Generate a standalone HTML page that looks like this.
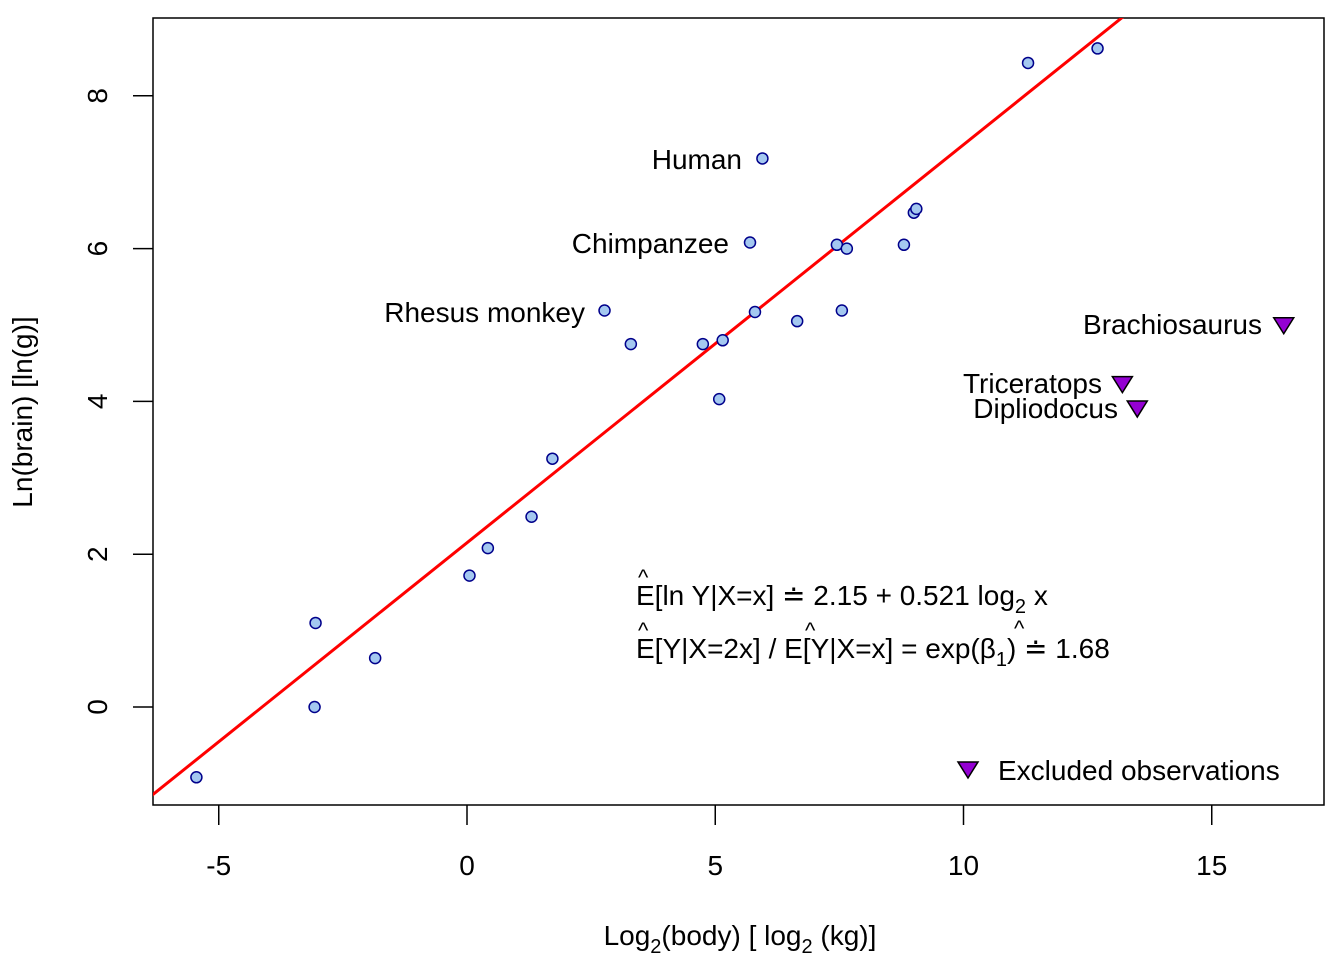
<!DOCTYPE html>
<html><head><meta charset="utf-8"><style>
body{margin:0;background:#fff;}
svg text{font-family:"Liberation Sans",sans-serif;fill:#000;}
</style></head><body>
<svg id="chart" width="1344" height="960" xmlns="http://www.w3.org/2000/svg">
<defs><clipPath id="clip"><rect x="153" y="18" width="1171" height="787"/></clipPath></defs>
<rect x="153" y="18" width="1171" height="787" fill="none" stroke="#000" stroke-width="1.5"/>
<g id="axes"></g>
<g id="line" clip-path="url(#clip)"></g>
<g id="pts"></g>
<text x="742" y="169" font-size="28" text-anchor="end">Human</text>
<text x="729" y="253" font-size="28" text-anchor="end">Chimpanzee</text>
<text x="585" y="322" font-size="28" text-anchor="end">Rhesus monkey</text>
<text x="1262" y="334" font-size="28" text-anchor="end">Brachiosaurus</text>
<text x="1102" y="393" font-size="28" text-anchor="end">Triceratops</text>
<text x="1118" y="418" font-size="28" text-anchor="end">Dipliodocus</text>
<g>
<text x="636" y="605" font-size="28">E[ln Y|X=x] ≐ 2.15 + 0.521 log<tspan font-size="20" dy="8">2</tspan><tspan dy="-8"> x</tspan></text>
<text x="638" y="585" font-size="22">^</text>
<text x="636" y="658" font-size="28">E[Y|X=2x] / E[Y|X=x] = exp(β<tspan font-size="20" dy="8">1</tspan><tspan dy="-8">) ≐ 1.68</tspan></text>
<text x="638" y="638" font-size="22">^</text>
<text x="805" y="638" font-size="22">^</text>
<text x="1014" y="636" font-size="22">^</text>
</g>
<g>
<polygon points="958,762 978,762 968,778" fill="#9400D3" stroke="#000" stroke-width="1.5"/>
<text x="998" y="780" font-size="28">Excluded observations</text>
</g>
<text x="740" y="945" font-size="28" text-anchor="middle">Log<tspan font-size="20" dy="8">2</tspan><tspan dy="-8">(body) [ log</tspan><tspan font-size="20" dy="8">2</tspan><tspan dy="-8"> (kg)]</tspan></text>
<text transform="translate(32,412) rotate(-90)" font-size="28" text-anchor="middle">Ln(brain) [ln(g)]</text>
</svg>
<script>
const xs=[-5.45,-3.05,-3.07,-1.85,0.05,0.42,1.3,1.72,2.77,3.3,4.75,5.15,5.08,5.7,5.8,5.95,6.65,7.45,7.65,7.55,8.8,9.0,9.05,11.3,12.7];
const ys=[-0.92,1.1,0.0,0.64,1.72,2.08,2.49,3.25,5.19,4.75,4.75,4.8,4.03,6.08,5.17,7.18,5.05,6.05,6.0,5.19,6.05,6.47,6.52,8.43,8.62];
const exX=[16.45,13.2,13.5];
const exY=[4.99,4.22,3.9];
const xTicks=[-5,0,5,10,15];
const yTicks=[0,2,4,6,8];
const intercept=2.15, slope=0.521;
const NS="http://www.w3.org/2000/svg";
const sx=v=>467+v*49.65, sy=v=>707-v*76.4;
function mk(t,a,p){const e=document.createElementNS(NS,t);for(const k in a)e.setAttribute(k,a[k]);p.appendChild(e);return e;}
const ax=document.getElementById('axes');
xTicks.forEach(t=>{
 const l=mk('line',{x1:sx(t),x2:sx(t),y1:805,y2:825,stroke:'#000','stroke-width':1.5},ax);
 
 
 const tx=mk('text',{x:sx(t),y:875,'font-size':28,'text-anchor':'middle'},ax);tx.textContent=t<0?'-'+(-t):t;
 
 
});
yTicks.forEach(t=>{
 const l=mk('line',{x1:133,x2:153,y1:sy(t),y2:sy(t),stroke:'#000','stroke-width':1.5},ax);
 
 
 const tx=mk('text',{x:0,y:0,'font-size':28,'text-anchor':'middle',transform:`translate(107,${sy(t)}) rotate(-90)`},ax);tx.textContent=t;
 
 
});
const ln=mk('line',{x1:sx(-7),y1:sy(intercept+slope*-7),x2:sx(18),y2:sy(intercept+slope*18),stroke:'#FF0000','stroke-width':3},document.getElementById('line'));


const pg=document.getElementById('pts');
xs.forEach((x,i)=>{
 const c=mk('circle',{cx:sx(x),cy:sy(ys[i]),r:5.5,fill:'#A4C8F0',stroke:'#00008B','stroke-width':1.5},pg);
 
 
});
exX.forEach((x,i)=>{
 const X=sx(x),Y=sy(exY[i]);
 const p=mk('polygon',{points:`${X-10},${Y-8} ${X+10},${Y-8} ${X},${Y+8}`,fill:'#9400D3',stroke:'#000','stroke-width':1.5},pg);
 
 
});
</script>
</body></html>
